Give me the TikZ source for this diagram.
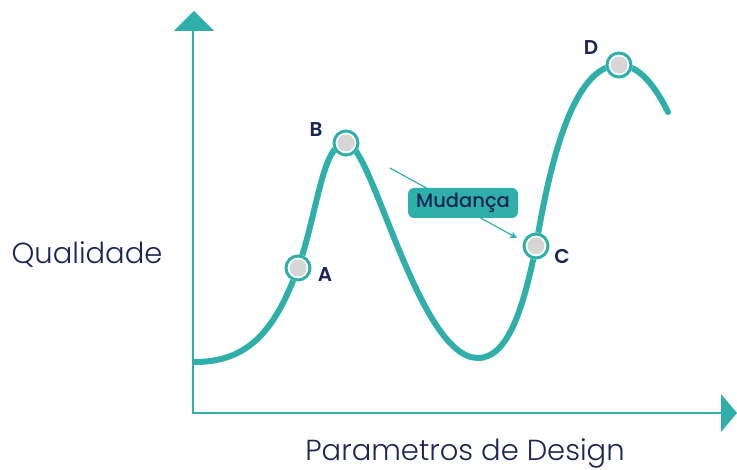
\documentclass[tikz,border=0pt]{standalone}
\usepackage{fontspec}
\setmainfont{Poppins}
\newfontfamily\lightfont{Poppins}[UprightFont=* Light]
\newfontfamily\medfont{Poppins}[UprightFont=* Medium]
\newfontfamily\semifont{Poppins}[UprightFont=* SemiBold]
\usetikzlibrary{arrows.meta}
\definecolor{teal1}{HTML}{2EAFAA}
\definecolor{navy}{HTML}{1B2656}
\definecolor{dotgrey}{HTML}{D6D6D6}
\tikzset{
  axis/.style={teal1, line width=2.5pt},
  curve/.style={teal1, line width=6pt, line cap=round},
  ptlabel/.style={text=navy, font=\semifont\fontsize{20}{20}\selectfont, inner sep=0pt},
  axislabel/.style={text=navy, font=\lightfont\fontsize{29}{29}\selectfont, inner sep=0pt},
}
\newcommand{\qpoint}[2]{%
  \fill[white] (#2) circle (13.5);
  \draw[teal1, line width=3pt] (#2) circle (12);
  \fill[dotgrey] (#2) circle (8.5);
}
\begin{document}
\begin{tikzpicture}[x=1pt,y=-1pt]
\useasboundingbox (0,0) rectangle (737,470);
% axes
\coordinate (O) at (193,413);
\coordinate (Ytop) at (193,30);
\coordinate (Xend) at (722,413);
\draw[axis] (Ytop) -- (O) -- (Xend);
\fill[teal1] (174,31) -- (194,11) -- (214,31) -- cycle;
\fill[teal1] (721,394) -- (737,413) -- (721,432) -- cycle;
% curve
\coordinate (S) at (195,362);
\coordinate (A) at (298,268);
\coordinate (B) at (346,143);
\coordinate (T) at (478,358);
\coordinate (C) at (536,246);
\coordinate (D) at (619,65);
\coordinate (E) at (668,112);
\draw[curve] (S) .. controls (250,362) and (276,328) .. (A)
  .. controls (318,212) and (322,143) .. (B)
  .. controls (372,143) and (418,358) .. (T)
  .. controls (510,358) and (525,300) .. (C)
  .. controls (549,168) and (572,65) .. (D)
  .. controls (640,65) and (656,88) .. (E);
% change arrow
\coordinate (m1) at (390,168);
\coordinate (m2) at (517,238);
\draw[teal1, line width=1.2pt, -{Stealth[length=7pt,width=7pt]}] (m1) -- (m2);
\node[fill=teal1, rounded corners=6pt, minimum width=110pt, minimum height=30pt, text=navy,
  font=\medfont\fontsize{19.5}{19.5}\selectfont, inner sep=0pt] (mud) at (463,203) {Mudança};
% points
\qpoint{a}{A}
\qpoint{b}{B}
\qpoint{c}{C}
\qpoint{d}{D}
\node[ptlabel] (la) at (325,275) {A};
\node[ptlabel] (lb) at (316,130) {B};
\node[ptlabel] (lc) at (562,256) {C};
\node[ptlabel] (ld) at (591,48) {D};
% axis labels
\node[axislabel] (ql) at (87,255) {Qualidade};
\node[axislabel] (pl) at (465,453) {Parametros de Design};
\end{tikzpicture}
\end{document}
